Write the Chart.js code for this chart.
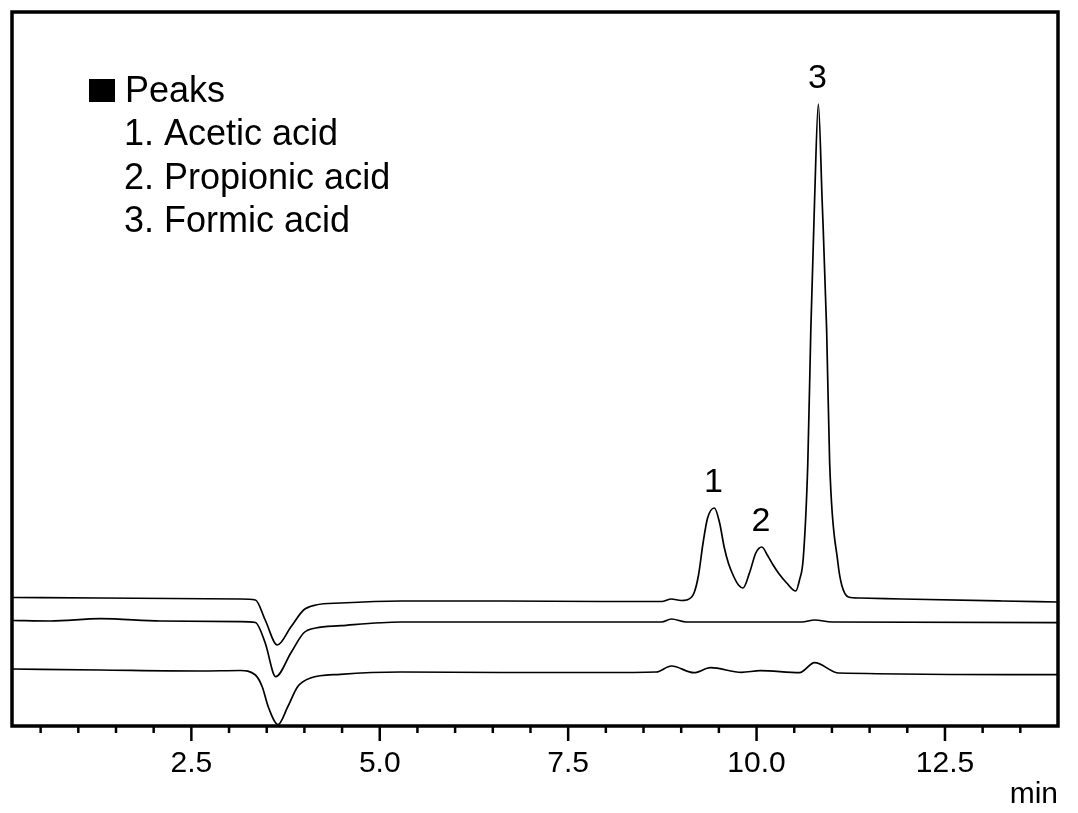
<!DOCTYPE html>
<html>
<head>
<meta charset="utf-8">
<script src="https://cdn.jsdelivr.net/npm/chart.js@4"></script>
<style>
  body { margin: 0; background: #fff; }
  #wrap { width: 1078px; height: 813px; }
</style>
</head>
<body>
<div id="wrap"><canvas id="chart1" width="1078" height="813"></canvas></div>
<script>
// retention time (min) and detector signal for each trace
var time1 = [0.12, 1.29, 3.15, 3.35, 3.48, 3.64, 3.82, 3.99, 4.15, 4.48, 5.28, 6.61, 7.94, 8.74, 8.87, 9.00, 9.07,
  9.17, 9.23, 9.29, 9.35, 9.44, 9.51, 9.57, 9.63, 9.70, 9.76, 9.82, 9.91, 9.99, 10.07, 10.15, 10.22, 10.29, 10.40,
  10.52, 10.57, 10.62, 10.68, 10.72, 10.77, 10.82, 10.87, 10.93, 10.97, 11.08, 11.13, 11.22, 11.37, 11.93, 13.26, 13.99];
var signal1 = [128.5, 128, 127, 126, 106, 81, 99, 116, 121, 123, 125, 125, 124.5, 124.5, 127, 125.5, 126,
  133, 151, 183, 208, 218, 203, 179, 162, 149, 141, 138, 154, 173, 179, 170, 161, 153, 143,
  135, 146, 168, 263, 396, 526, 622, 526, 396, 263, 163, 141, 129, 128, 127, 125, 124];

var time2 = [0.12, 0.63, 1.29, 2.09, 3.15, 3.35, 3.48, 3.62, 3.82, 3.99, 4.15, 4.48, 5.28, 6.61, 7.94, 8.74, 8.87,
  9.07, 10.6, 10.77, 11.0, 13.99];
var signal2 = [105.5, 105, 107.3, 105, 104.3, 103.5, 83, 49.3, 73, 93, 98, 100.3, 104, 104, 104, 104, 107,
  104, 104, 106, 104, 103.3];

var time3 = [0.12, 1.29, 2.62, 3.15, 3.35, 3.44, 3.52, 3.65, 3.78, 3.91, 4.08, 4.48, 5.28, 6.61, 7.94, 8.67, 8.87,
  9.17, 9.39, 9.80, 10.05, 10.57, 10.77, 11.09, 13.99];
var signal3 = [57, 56, 55, 55.5, 51, 39.3, 19.3, 1.5, 19.3, 39.3, 48, 51.7, 54, 53.5, 53.5, 54, 60,
  53.3, 58.3, 53.7, 55.3, 53.3, 63.3, 53, 51.3];

var peakTimes = [9.44, 10.07, 10.82];
var peakNames = ['1', '2', '3'];
var legendLines = ['1. Acetic acid', '2. Propionic acid', '3. Formic acid'];
var tickLabels = [2.5, 5.0, 7.5, 10.0, 12.5];

function pairs(t, s) {
  return t.map(function (v, i) { return { x: v, y: s[i] }; });
}

function trace(t, s) {
  return {
    data: pairs(t, s),
    borderColor: '#000',
    borderWidth: 1.7,
    pointRadius: 0,
    fill: false,
    cubicInterpolationMode: 'monotone'
  };
}

var decor = {
  id: 'decor',
  afterDraw: function (chart) {
    var ctx = chart.ctx;
    var a = chart.chartArea;
    var xs = chart.scales.x;
    var ys = chart.scales.y;
    ctx.save();
    // frame
    ctx.strokeStyle = '#000';
    ctx.lineWidth = 3.5;
    ctx.strokeRect(a.left, a.top, a.right - a.left, a.bottom - a.top);
    // tick marks, every 0.5 min, long ones on the labelled values
    ctx.lineWidth = 2.5;
    for (var v = 0.5; v < 14; v += 0.5) {
      var px = xs.getPixelForValue(v);
      var major = Math.abs(v / 2.5 - Math.round(v / 2.5)) < 1e-6;
      ctx.beginPath();
      ctx.moveTo(px, a.bottom);
      ctx.lineTo(px, a.bottom + (major ? 15 : 7));
      ctx.stroke();
    }
    // peak numbers above trace 1
    ctx.fillStyle = '#000';
    ctx.font = '34px "Liberation Sans", Arial, sans-serif';
    ctx.textAlign = 'center';
    ctx.textBaseline = 'alphabetic';
    peakTimes.forEach(function (t, i) {
      var k = time1.indexOf(t);
      ctx.fillText(peakNames[i], xs.getPixelForValue(t) - 1, ys.getPixelForValue(signal1[k]) - 16);
    });
    // peak list
    ctx.textAlign = 'left';
    ctx.font = '36px "Liberation Sans", Arial, sans-serif';
    ctx.fillRect(a.left + 77, a.top + 67, 26, 23);
    ctx.fillText('Peaks', a.left + 113, a.top + 90);
    legendLines.forEach(function (s, i) {
      ctx.fillText(s, a.left + 112, a.top + 133 + i * 43.5);
    });
    ctx.restore();
  }
};

var ctx = document.getElementById('chart1');
var chart = new Chart(ctx, {
  type: 'line',
  data: {
    datasets: [trace(time1, signal1), trace(time2, signal2), trace(time3, signal3)]
  },
  options: {
    responsive: false,
    animation: false,
    layout: { padding: { left: 12, top: 12, right: 20, bottom: 0 } },
    plugins: { legend: { display: false }, tooltip: { enabled: false } },
    scales: {
      x: {
        type: 'linear',
        min: 0.12,
        max: 14,
        afterFit: function (scale) {
          scale.height = 87;
          scale.paddingLeft = 0;
          scale.paddingRight = 0;
        },
        grid: { display: false, drawTicks: false },
        border: { display: false },
        ticks: {
          stepSize: 2.5,
          autoSkip: false,
          maxRotation: 0,
          padding: 20,
          color: '#000',
          font: { family: '"Liberation Sans", Arial, sans-serif', size: 30 },
          callback: function (v) {
            return tickLabels.indexOf(v) >= 0 ? v.toFixed(1) : '';
          }
        },
        title: {
          display: true,
          text: 'min',
          align: 'end',
          color: '#000',
          font: { family: '"Liberation Sans", Arial, sans-serif', size: 30 },
          padding: { top: 0, bottom: 0 }
        }
      },
      y: {
        display: false,
        min: 0,
        max: 714
      }
    }
  },
  plugins: [decor]
});
</script>
</body>
</html>
